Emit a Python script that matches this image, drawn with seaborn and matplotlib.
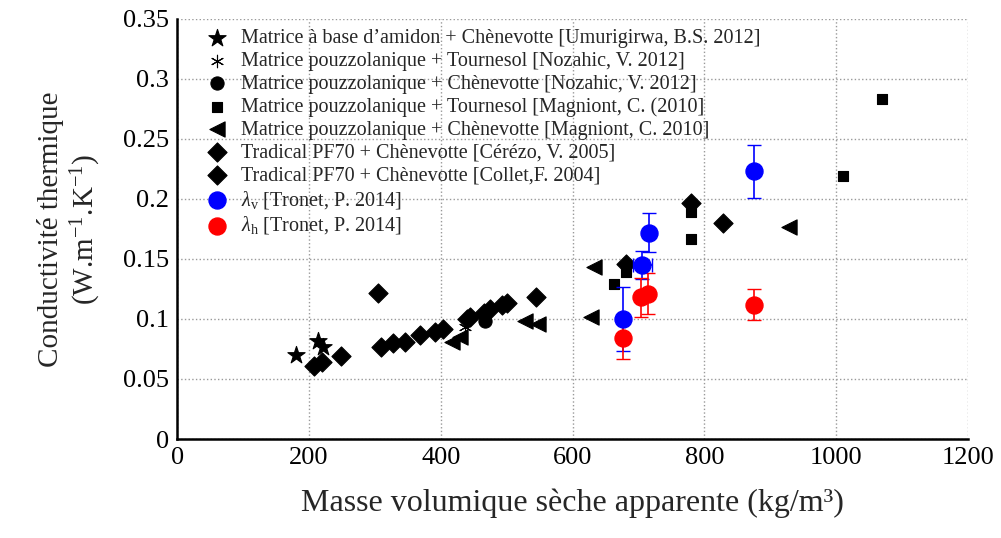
import matplotlib
matplotlib.use("Agg")
from matplotlib import pyplot as plt
import seaborn as sns
import pandas as pd

sns.set_style("white")
plt.rcParams['font.family'] = ['Liberation Serif', 'DejaVu Serif']
plt.rcParams['mathtext.fontset'] = 'custom'
plt.rcParams['mathtext.rm'] = 'Liberation Serif'
plt.rcParams['mathtext.it'] = 'Liberation Serif:italic'

# --- data (kg/m3, W/m.K) ---
amidon_x = [180, 214, 222]
amidon_y = [0.070, 0.082, 0.077]

nozahic_tournesol_x = [437]
nozahic_tournesol_y = [0.093]

nozahic_chenev_x = [467]
nozahic_chenev_y = [0.098]

magniont_tournesol_x = [663, 681, 780, 780, 1010, 1070]
magniont_tournesol_y = [0.129, 0.139, 0.167, 0.189, 0.219, 0.283]

magniont_chenev_x = [417, 429, 528, 548, 628, 633, 928]
magniont_chenev_y = [0.081, 0.085, 0.098, 0.096, 0.102, 0.143, 0.177]

cerezo_x = [208, 220, 249, 305, 310, 328, 345, 368, 681, 780]
cerezo_y = [0.061, 0.064, 0.069, 0.122, 0.077, 0.080, 0.081, 0.087, 0.146, 0.197]

collet_x = [391, 403, 440, 445, 466, 475, 493, 501, 544, 828]
collet_y = [0.089, 0.092, 0.100, 0.102, 0.105, 0.108, 0.112, 0.113, 0.118, 0.180]

lv_x = [676, 706, 716, 876]
lv_y = [0.100, 0.145, 0.172, 0.223]
lv_err = [0.027, 0.012, 0.016, 0.022]
lv_xerr = [0, 15, 0, 0]

lh_x = [676, 704, 714, 876]
lh_y = [0.084, 0.118, 0.121, 0.112]
lh_err = [0.017, 0.016, 0.017, 0.013]

series = [
    ("Matrice à base d\u2019amidon + Chènevotte [Umurigirwa, B.S. 2012]", amidon_x, amidon_y, "*", 170),
    ("Matrice pouzzolanique + Tournesol [Nozahic, V. 2012]", nozahic_tournesol_x, nozahic_tournesol_y, (6, 2, 0), 80),
    ("Matrice pouzzolanique + Chènevotte [Nozahic, V. 2012]", nozahic_chenev_x, nozahic_chenev_y, "o", 90),
    ("Matrice pouzzolanique + Tournesol [Magniont, C. (2010]", magniont_tournesol_x, magniont_tournesol_y, "s", 60),
    ("Matrice pouzzolanique + Chènevotte [Magniont, C. 2010]", magniont_chenev_x, magniont_chenev_y, "<", 120),
    ("Tradical PF70 + Chènevotte [Cérézo, V. 2005]", cerezo_x, cerezo_y, "D", 95),
    ("Tradical PF70 + Chènevotte [Collet,F. 2004]", collet_x, collet_y, "D", 95),
]

fig = plt.figure(figsize=(10.01, 5.38), dpi=100)
ax = fig.add_axes([0.177, 0.184, 0.79, 0.781])

for label, xs, ys, mk, sz in series:
    df = pd.DataFrame({"x": xs, "y": ys})
    sns.scatterplot(data=df, x="x", y="y", marker=mk, s=sz, color="black",
                    edgecolor="black", linewidth=0.8, label=label, ax=ax, zorder=3)

# lambda series with error bars
ax.errorbar(lv_x, lv_y, yerr=lv_err, xerr=lv_xerr, fmt="none", ecolor="blue",
            elinewidth=1.2, capsize=5, zorder=4)
sns.scatterplot(x=lv_x, y=lv_y, marker="o", s=150, color="blue", edgecolor="blue",
                label=r"$\lambda_{\rm v}$ [Tronet, P. 2014]", ax=ax, zorder=5)
ax.errorbar(lh_x, lh_y, yerr=lh_err, fmt="none", ecolor="red",
            elinewidth=1.2, capsize=5, zorder=4)
sns.scatterplot(x=lh_x, y=lh_y, marker="o", s=150, color="red", edgecolor="red",
                label=r"$\lambda_{\rm h}$ [Tronet, P. 2014]", ax=ax, zorder=5)

ax.set_xlim(0, 1200)
ax.set_ylim(0, 0.35)
ax.set_xticks([0, 200, 400, 600, 800, 1000, 1200])
ax.set_yticks([0, 0.05, 0.1, 0.15, 0.2, 0.25, 0.3, 0.35])
ax.set_yticklabels(["0", "0.05", "0.1", "0.15", "0.2", "0.25", "0.3", "0.35"])
ax.tick_params(direction="in", length=6, width=1.2, labelsize=19, colors="black", pad=6)
ax.grid(True, linestyle=":", color="#999999", linewidth=1.0)
for s in ["top", "right"]:
    ax.spines[s].set_visible(False)
for s in ["left", "bottom"]:
    ax.spines[s].set_linewidth(1.8)
    ax.spines[s].set_color("black")

ax.set_xlabel("Masse volumique sèche apparente (kg/m³)", fontsize=23, labelpad=14)
ax.set_ylabel("Conductivité thermique\n(W.m$^{-1}$.K$^{-1}$)", fontsize=21, labelpad=14)

leg = ax.legend(loc="upper left", bbox_to_anchor=(0.025, 0.995), frameon=False,
                fontsize=14.5, handletextpad=0.6, labelspacing=0.18,
                borderaxespad=0.0, handlelength=1.2)

fig.savefig("out.png", dpi=100)
